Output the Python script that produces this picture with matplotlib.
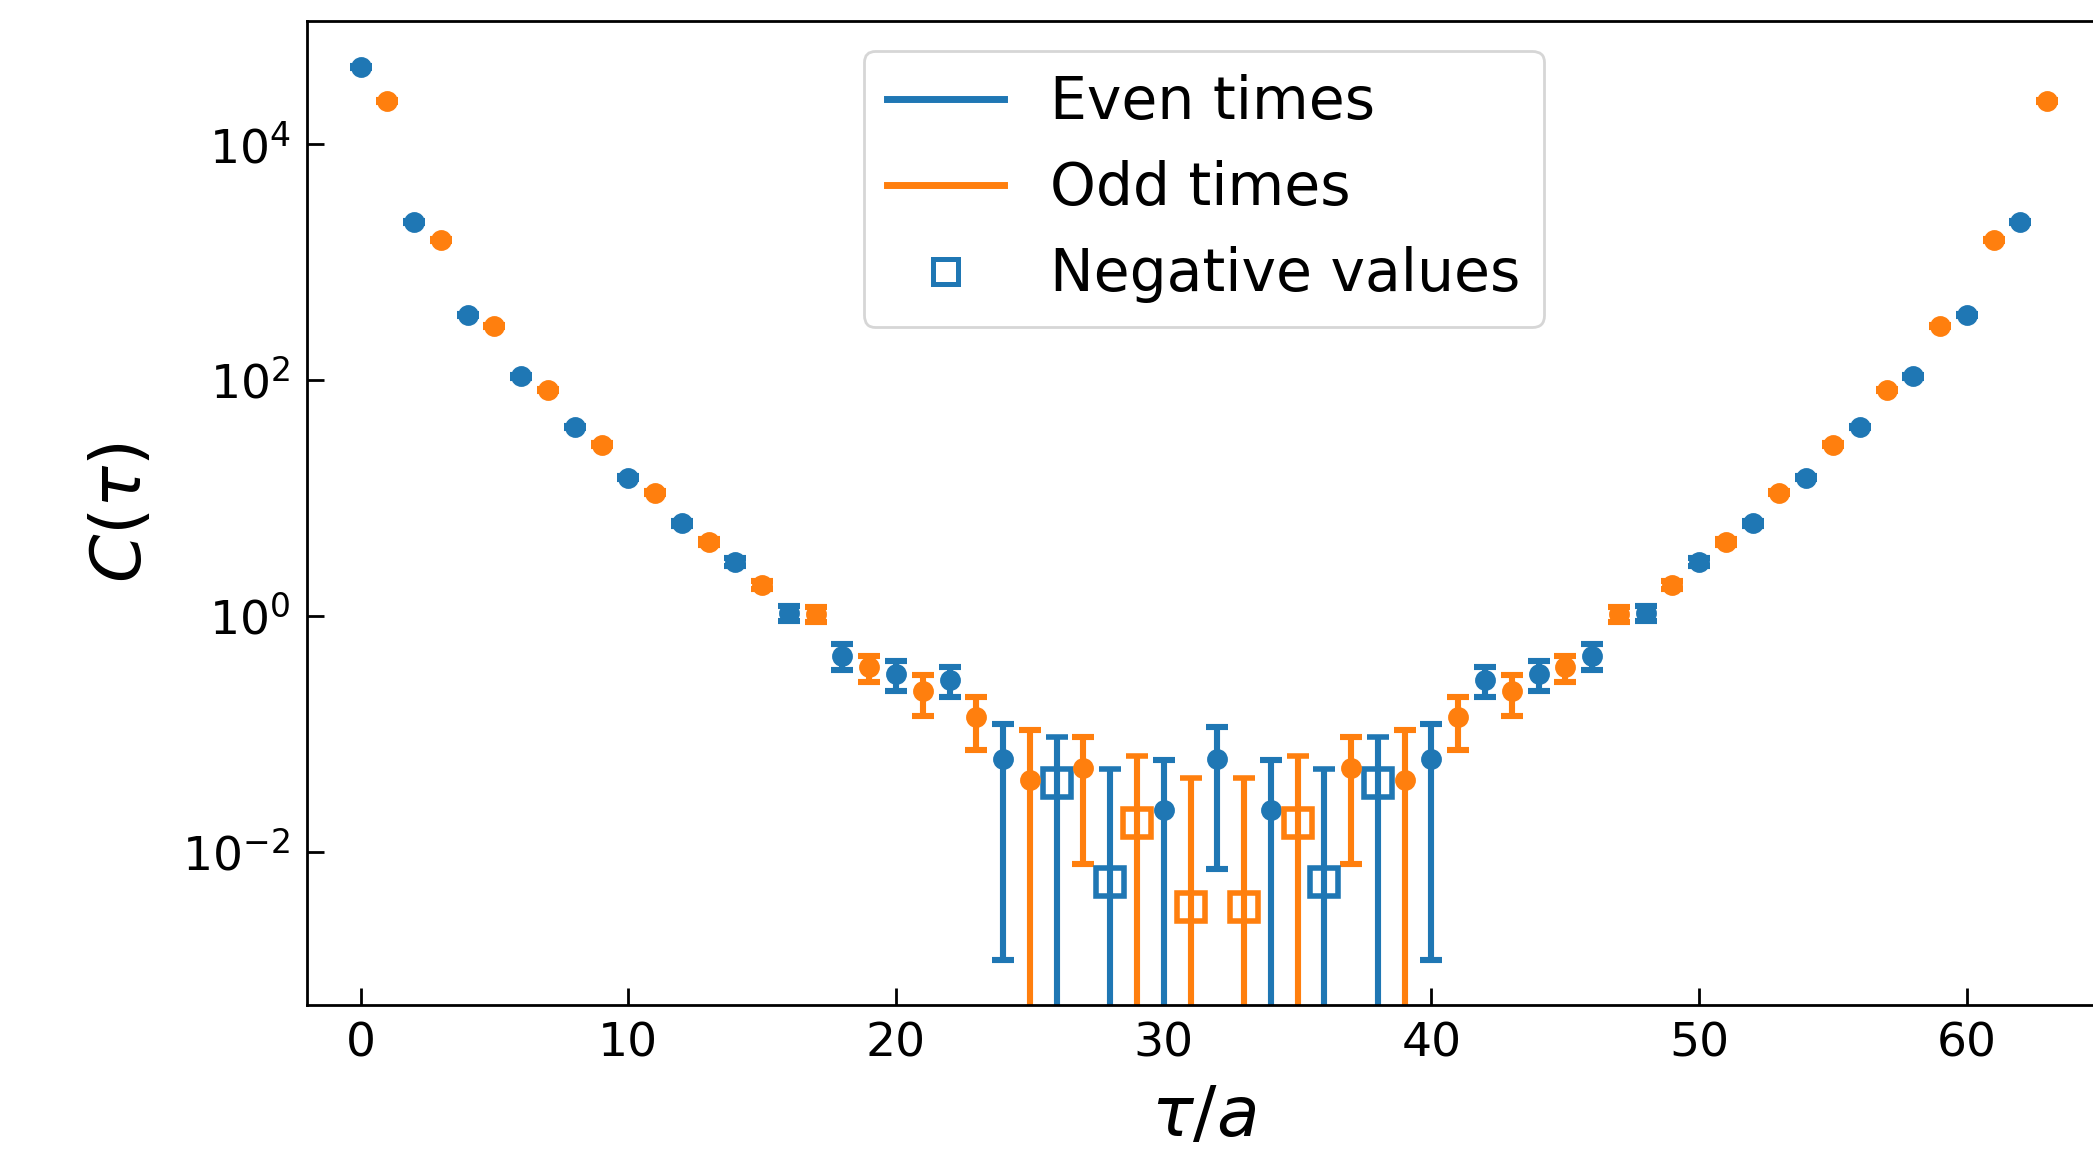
import numpy as np
import matplotlib
matplotlib.use("Agg")
import matplotlib.pyplot as plt
from matplotlib.lines import Line2D

# ---- data ----
tau = np.arange(64)
corr = [45400, 23000, 2200, 1530, 355, 288, 107, 82, 40, 28.3,
        14.8, 11.1, 6.1, 4.2, 2.85, 1.83, 1.06, 1.03, 0.46, 0.366,
        0.322, 0.229, 0.286, 0.138, 0.0612, 0.0406, -0.038, 0.0509, -0.00557, -0.0174,
        0.0226, -0.00342, 0.0612, -0.00342, 0.0226, -0.0174, -0.00557, 0.0509, -0.038, 0.0406,
        0.0612, 0.138, 0.286, 0.229, 0.322, 0.366, 0.46, 1.03, 1.06, 1.83,
        2.85, 4.2, 6.1, 11.1, 14.8, 28.3, 40, 82, 107, 288,
        355, 1530, 2200, 23000]
corr_err = [900, 450, 45, 30, 7, 6, 2.2, 1.7, 0.9, 0.7,
            0.4, 0.35, 0.3, 0.25, 0.23, 0.15, 0.16, 0.15, 0.115, 0.092,
            0.09, 0.088, 0.08, 0.065, 0.060, 0.067, 0.056, 0.043, 0.045, 0.048,
            0.037, 0.0385, 0.054, 0.0385, 0.037, 0.048, 0.045, 0.043, 0.056, 0.067,
            0.060, 0.065, 0.08, 0.088, 0.09, 0.092, 0.115, 0.15, 0.16, 0.15,
            0.23, 0.25, 0.3, 0.35, 0.4, 0.7, 0.9, 1.7, 2.2, 6,
            7, 30, 45, 450]
legend_labels = ["Even times", "Odd times", "Negative values"]
xticks = [0, 10, 20, 30, 40, 50, 60]
yticks = [1e-2, 1e0, 1e2, 1e4]

corr = np.array(corr, dtype=float)
corr_err = np.array(corr_err, dtype=float)

plt.rcParams['font.family'] = ['DejaVu Sans']
plt.rcParams['mathtext.fontset'] = 'dejavusans'

fig = plt.figure(figsize=(2093 / 200, 1152 / 200), dpi=200)
ax = fig.add_axes([0.1467, 0.1276, 0.857, 0.8538])

colors = {0: '#1f77b4', 1: '#ff7f0e'}
ekw = dict(capsize=4, elinewidth=2.2, capthick=2.2, linestyle='none')
for parity in (0, 1):
    c = colors[parity]
    sel = (tau % 2 == parity)
    pos = sel & (corr > 0)
    neg = sel & (corr < 0)
    ax.errorbar(tau[pos], corr[pos], yerr=corr_err[pos], fmt='o', color=c,
                markersize=6.5, **ekw)
    ax.errorbar(tau[neg], -corr[neg], yerr=corr_err[neg], fmt='s', color=c,
                markersize=10, mfc='none', mew=2, **ekw)

ax.set_yscale('log')
ax.set_xlim(-2, 65)
ax.set_ylim(10 ** -3.30, 10 ** 5.04)
ax.set_xticks(xticks)
ax.set_yticks(yticks)
ax.yaxis.set_minor_locator(matplotlib.ticker.NullLocator())
ax.tick_params(direction='in', length=6, width=1, labelsize=17, pad=6)
for s in ax.spines.values():
    s.set_linewidth(1.0)

ax.set_xlabel(r'$\tau/a$', fontsize=25, labelpad=6)
ax.set_ylabel(r'$C(\tau)$', fontsize=25, labelpad=10)

handles = [Line2D([], [], color=colors[0], lw=2.5),
           Line2D([], [], color=colors[1], lw=2.5),
           Line2D([], [], color=colors[0], marker='s', linestyle='none',
                  markersize=9, mfc='none', mew=1.8)]
ax.legend(handles, legend_labels, loc='upper center', fontsize=21)

fig.savefig('out.png', dpi=200)
